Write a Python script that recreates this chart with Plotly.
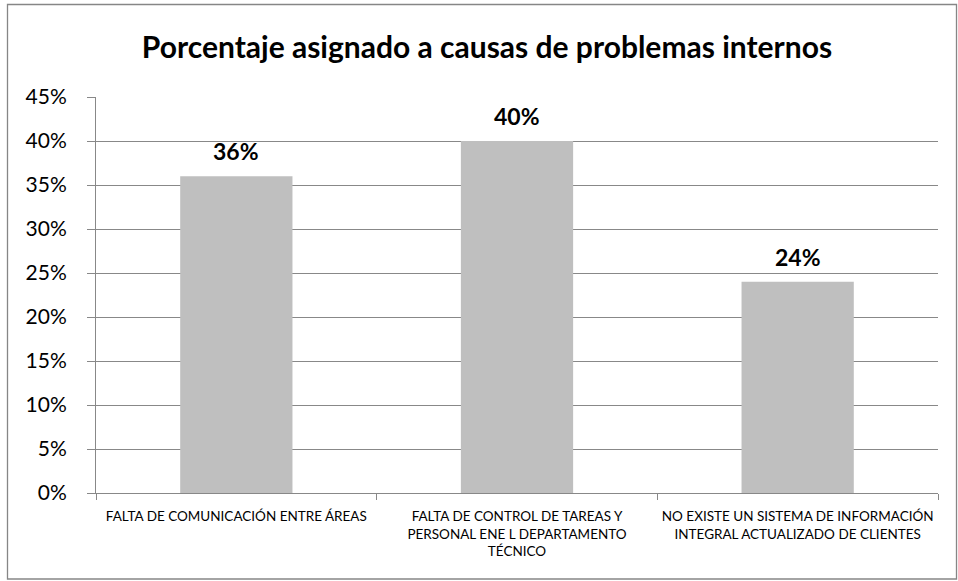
import plotly.graph_objects as go

# Chart data
categories = [
    "FALTA DE COMUNICACIÓN ENTRE ÁREAS",
    "FALTA DE CONTROL DE TAREAS Y<br>PERSONAL ENE L DEPARTAMENTO<br>TÉCNICO",
    "NO EXISTE UN SISTEMA DE INFORMACIÓN<br>INTEGRAL ACTUALIZADO DE CLIENTES",
]
percentages = [0.36, 0.40, 0.24]
y_ticks = [0.00, 0.05, 0.10, 0.15, 0.20, 0.25, 0.30, 0.35, 0.40, 0.45]
y_tick_labels = ["0%", "5%", "10%", "15%", "20%", "25%", "30%", "35%", "40%", "45%"]
title_text = "Porcentaje asignado a causas de problemas internos"

FONT = "Lato, Carlito, Calibri, sans-serif"
GRID = "#888888"

W, H = 958, 581
L, R, T, B = 96, 20, 97, 88
pw, ph = W - L - R, H - T - B

fig = go.Figure()
fig.add_trace(go.Bar(
    x=categories,
    y=percentages,
    width=0.4,
    marker=dict(color="#BFBFBF", line=dict(width=0)),
    hoverinfo="skip",
))

# Value labels above each bar
for c, v in zip(categories, percentages):
    fig.add_annotation(
        x=c, y=v, text=f"<b>{round(v * 100)}%</b>",
        showarrow=False, yanchor="middle", yshift=25,
        font=dict(family=FONT, size=23, color="#000000"),
    )

# Outer chart border
def px_x(p):
    return (p - L) / pw

def px_y(p):
    return (H - B - p) / ph

fig.add_shape(
    type="rect", xref="paper", yref="paper",
    x0=px_x(7.5), x1=px_x(956.5), y0=px_y(579), y1=px_y(4.5),
    line=dict(color="#868686", width=1.3), fillcolor="rgba(0,0,0,0)",
    layer="below",
)

fig.update_layout(
    width=W, height=H,
    margin=dict(l=L, r=R, t=T, b=B, pad=0, autoexpand=False),
    paper_bgcolor="white", plot_bgcolor="white",
    showlegend=False,
    title=dict(
        text=f"<b>{title_text}</b>",
        x=487 / W, xanchor="center", xref="container",
        y=1 - 47 / H, yanchor="middle", yref="container",
        font=dict(family=FONT, size=30, color="#000000"),
    ),
    bargap=0.6,
)

fig.update_xaxes(
    type="category",
    tickson="boundaries",
    ticks="outside", ticklen=6, tickcolor=GRID, tickwidth=1,
    showline=True, linecolor=GRID, linewidth=1,
    showgrid=False,
    tickangle=0,
    automargin=False,
    tickfont=dict(family=FONT, size=13.5, color="#000000"),
    ticklabelstandoff=11,
    fixedrange=True,
)

fig.update_yaxes(
    range=[0, 0.45],
    tickvals=y_ticks, ticktext=y_tick_labels,
    ticks="outside", ticklen=8, tickcolor=GRID, tickwidth=1,
    showline=True, linecolor=GRID, linewidth=1,
    showgrid=True, gridcolor=GRID, gridwidth=1,
    zeroline=False,
    automargin=False,
    tickfont=dict(family=FONT, size=21, color="#000000"),
    ticklabelstandoff=16,
    fixedrange=True,
)

fig.write_html("out.html")
